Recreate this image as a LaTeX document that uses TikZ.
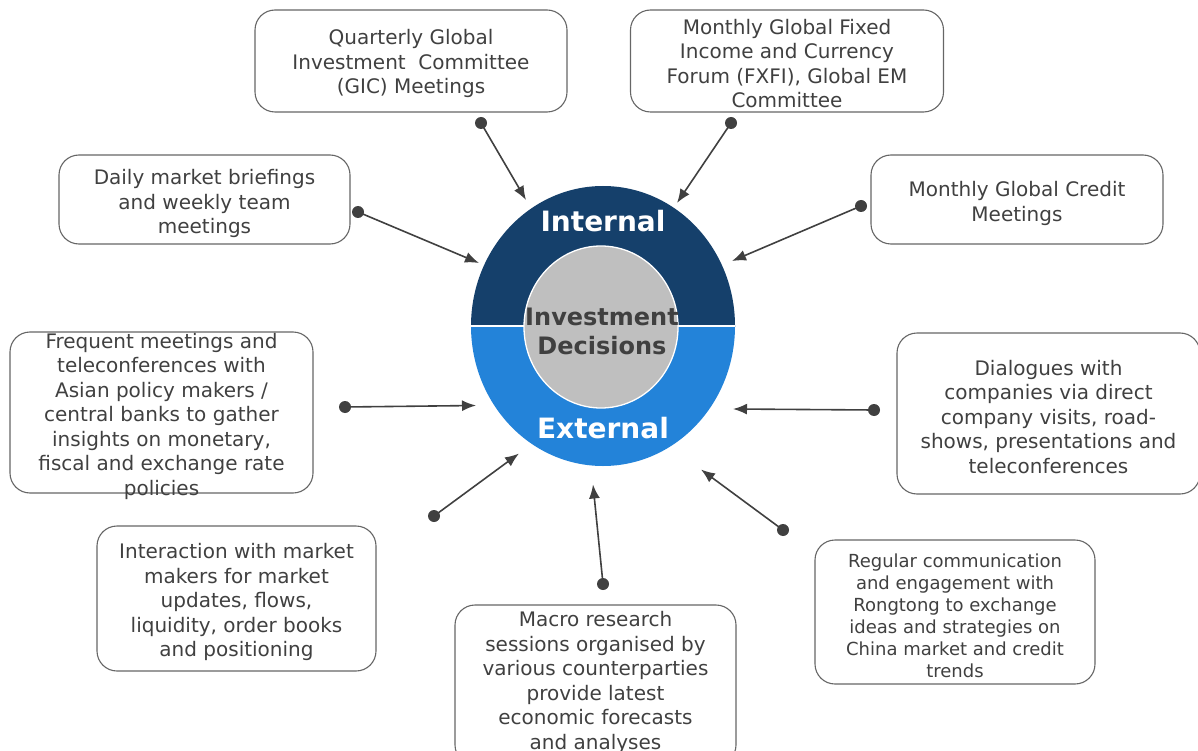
\documentclass[tikz,border=0pt]{standalone}
\usepackage{fontspec}
\setmainfont{DejaVu Sans}
\usetikzlibrary{arrows.meta}
\definecolor{navy}{HTML}{15406B}
\definecolor{sky}{HTML}{2383D9}
\definecolor{core}{HTML}{BFBFBF}
\definecolor{ink}{HTML}{404040}
\tikzset{%
  box/.style={%
    rectangle,%
    draw=ink!80,%
    line width=1.1pt,%
    rounded corners=20pt,%
    inner sep=0pt},
  txt/.style={%
    align=center,%
    text=ink,%
    inner sep=0pt,%
    yshift=-2.5pt,%
    font=\fontsize{20}{24.5}\selectfont},
  small/.style={%
    font=\fontsize{18}{22}\selectfont},
  dot/.style={%
    circle,%
    fill=ink,%
    inner sep=0pt,%
    minimum size=12pt},
  feed/.style={%
    draw=ink,%
    line width=1.6pt,%
    -{Latex[length=14pt,width=11pt]}}
}

\begin{document}
\begin{tikzpicture}[x=1pt,y=-1pt]
  \useasboundingbox (0,0) rectangle (1198,751);
  \clip (0,0) rectangle (1198,751);

  % the two halves of the ring
  \begin{scope}
    \clip (460,170) rectangle (750,326);
    \fill[navy] (603,326) ellipse [x radius=132, y radius=140];
  \end{scope}
  \begin{scope}
    \clip (460,326) rectangle (750,480);
    \fill[sky] (603,326) ellipse [x radius=132, y radius=140];
  \end{scope}
  \draw[white, line width=1.2pt] (471,326) -- (735,326);
  \filldraw[fill=core, draw=white, line width=1.3pt]
    (601,327) ellipse [x radius=77, y radius=81];

  \node [font=\bfseries\fontsize{28}{32}\selectfont, text=white] (int) at (603,221) {Internal};
  \node [font=\bfseries\fontsize{28}{32}\selectfont, text=white] (ext) at (603,428) {External};
  \node [align=center, text=ink, inner sep=0pt,
         font=\bfseries\fontsize{24}{29}\selectfont] (inv) at (602,331) {Investment\\Decisions};

  % boxes
  \node [box, minimum width=312pt, minimum height=102pt] (gic) at (411,61) {};
  \node [txt] (gict) at (gic) {Quarterly Global\\Investment\ \ Committee\\(GIC) Meetings};

  \node [box, minimum width=313pt, minimum height=102pt] (fxfi) at (787,61) {};
  \node [txt] (fxfit) at (787,61) {Monthly Global Fixed\\Income and Currency\\Forum (FXFI), Global EM\\Committee};

  \node [box, minimum width=291pt, minimum height=89pt] (daily) at (204.5,199.5) {};
  \node [txt] (dailyt) at (204.5,201) {Daily market briefings\\and weekly team\\meetings};

  \node [box, minimum width=292pt, minimum height=89pt] (credit) at (1017,199.5) {};
  \node [txt] (creditt) at (1017,201) {Monthly Global Credit\\Meetings};

  \node [box, minimum width=303pt, minimum height=161pt] (freq) at (161.5,412.5) {};
  \node [txt] (freqt) at (161.5,413.5) {Frequent meetings and\\teleconferences with\\Asian policy makers /\\central banks to gather\\insights on monetary,\\fiscal and exchange rate\\policies};

  \node [box, minimum width=303pt, minimum height=161pt] (dial) at (1048.5,413.5) {};
  \node [txt] (dialt) at (1048.5,414.5) {Dialogues with\\companies via direct\\company visits, road-\\shows, presentations and\\teleconferences};

  \node [box, minimum width=279pt, minimum height=145pt] (inter) at (236.5,598.5) {};
  \node [txt] (intert) at (236.5,599.5) {Interaction with market\\makers for market\\updates, flows,\\liquidity, order books\\and positioning};

  \node [box, minimum width=280pt, minimum height=144pt] (reg) at (955,612) {};
  \node [txt, small] (regt) at (955,613) {Regular communication\\and engagement with\\Rongtong to exchange\\ideas and strategies on\\China market and credit\\trends};

  \node [box, minimum width=281pt, minimum height=160pt] (macro) at (595.5,685) {};
  \node [txt] (macrot) at (595.5,680) {Macro research\\sessions organised by\\various counterparties\\provide latest\\economic forecasts\\and analyses};

  % dots and arrows into the ring
  \node [dot] (d-gic) at (481,123) {};
  \node [dot] (d-fxfi) at (731,123) {};
  \node [dot] (d-daily) at (358,212) {};
  \node [dot] (d-credit) at (861,206) {};
  \node [dot] (d-freq) at (345,407) {};
  \node [dot] (d-dial) at (874,410) {};
  \node [dot] (d-inter) at (434,516) {};
  \node [dot] (d-reg) at (783,530) {};
  \node [dot] (d-macro) at (603,584) {};

  \coordinate (t-gic) at (526,200);
  \coordinate (t-fxfi) at (677,203);
  \coordinate (t-daily) at (479,263);
  \coordinate (t-credit) at (732,261);
  \coordinate (t-freq) at (476,405.5);
  \coordinate (t-dial) at (733,409);
  \coordinate (t-inter) at (519,453.5);
  \coordinate (t-reg) at (701,469.5);
  \coordinate (t-macro) at (593,484.5);

  \foreach \n in {gic,fxfi,daily,credit,freq,dial,inter,reg,macro}
    \draw [feed] (d-\n.center) -- (t-\n);
\end{tikzpicture}
\end{document}
